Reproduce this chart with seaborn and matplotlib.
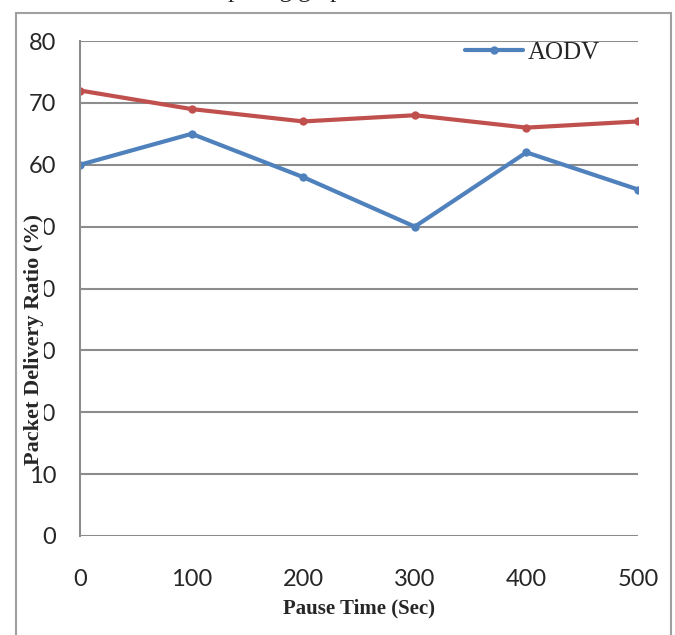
import matplotlib
matplotlib.use('Agg')
from matplotlib import pyplot as plt
from matplotlib.patches import Rectangle
import seaborn as sns
import pandas as pd

pause_time = [0, 100, 200, 300, 400, 500]
aodv = [60, 65, 58, 50, 62, 56]
other = [72, 69, 67, 68, 66, 67]
y_ticks = [0, 10, 20, 30, 40, 50, 60, 70, 80]

dados = pd.DataFrame({'pausa': pause_time, 'aodv': aodv, 'outro': other})

sns.set_style('white')
plt.rcParams['font.family'] = ['Liberation Serif', 'DejaVu Sans']

fig = plt.figure(figsize=(6.75, 6.35), dpi=100)
ax = fig.add_axes([80 / 675, 1 - 536 / 635, 558 / 675, 495 / 635])

sns.lineplot(x='pausa', y='outro', data=dados, ax=ax, color='#C0504D', lw=3,
             marker='o', markersize=6, markeredgewidth=0, label='_nolegend_')
sns.lineplot(x='pausa', y='aodv', data=dados, ax=ax, color='#4F81BD', lw=3,
             marker='o', markersize=6, markeredgewidth=0, label='AODV')

ax.set_xlim(0, 500)
ax.set_ylim(0, 80)
ax.set_yticks(y_ticks)
ax.set_xticks(pause_time)
ax.grid(axis='y', color='#8c8c8c', lw=1.5)
ax.set_axisbelow(True)
for s in ['top', 'right', 'bottom']:
    ax.spines[s].set_visible(False)
ax.spines['left'].set_color('#8c8c8c')
ax.spines['left'].set_linewidth(1.5)
ax.tick_params(axis='y', direction='out', length=7, width=1.5, color='#8c8c8c',
               labelsize=17, pad=10)
ax.tick_params(axis='x', length=0, labelsize=17, pad=24)
for lab in ax.get_xticklabels() + ax.get_yticklabels():
    lab.set_family('Lato')
ax.set_clip_on(False)

# o rótulo do eixo y fica por cima dos números, como no original
ax.set_xlabel('Pause Time (Sec)', fontsize=15, fontweight='bold', labelpad=6)
ax.set_ylabel('Packet Delivery Ratio (%)', fontsize=16, fontweight='bold',
              bbox=dict(facecolor='white', edgecolor='none', pad=0))
ax.yaxis.set_label_coords(-0.064, 0.396)

ax.legend(loc='upper right', bbox_to_anchor=(0.972, 1.045), frameon=False,
          fontsize=18, handlelength=2.3, handletextpad=0.2)

fig.patches.append(Rectangle((16 / 675, -0.05), 655 / 675, 1.05 - 13 / 635,
                             transform=fig.transFigure, fill=False,
                             edgecolor='#a0a0a0', lw=1.5))
fig.text(0.40, 1 + 3 / 635, 'comparing graph', ha='center', va='baseline',
         fontsize=18)

fig.savefig('out.png', dpi=100)
